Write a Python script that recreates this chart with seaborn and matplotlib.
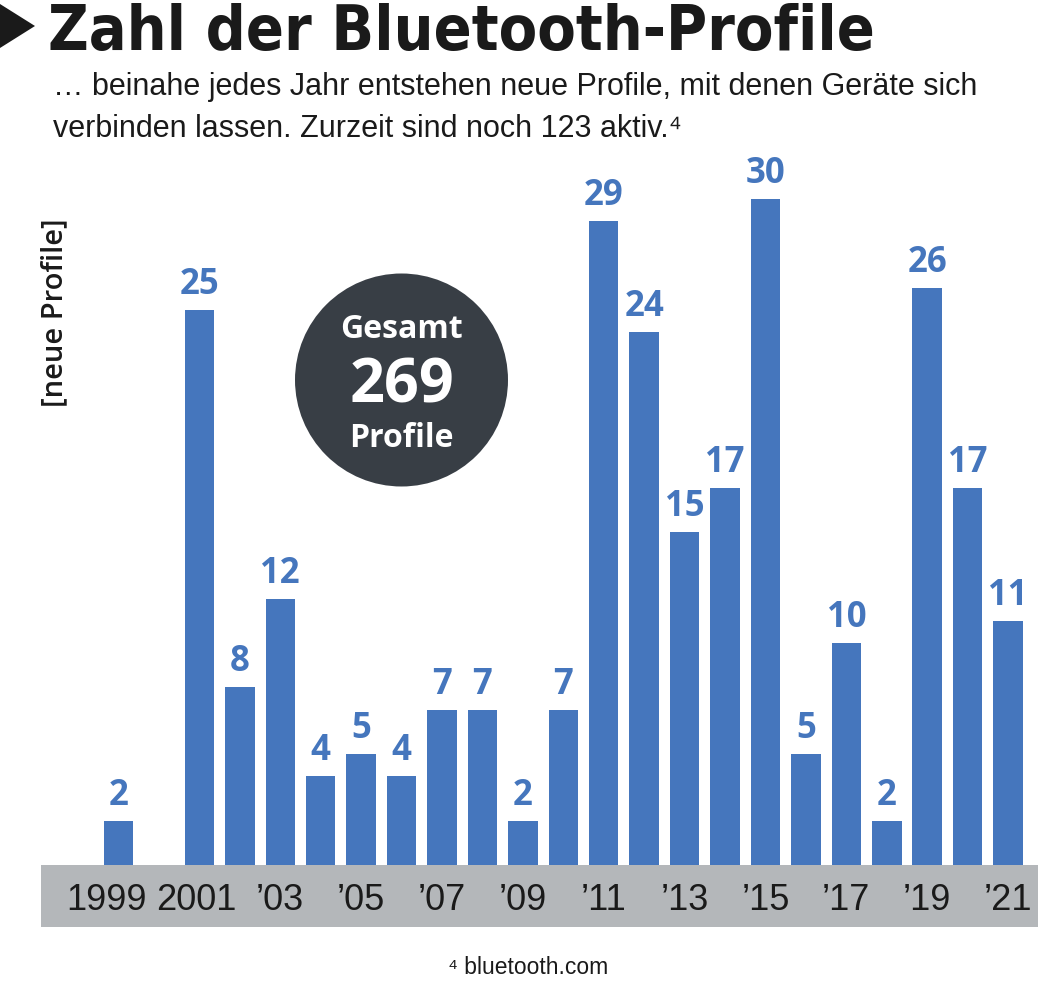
import matplotlib
matplotlib.use("Agg")
import matplotlib.pyplot as plt
import matplotlib.transforms as mtransforms
from matplotlib.patches import Ellipse, Polygon
import pandas as pd
import seaborn as sns

# data
years = list(range(1999, 2022))
new_profiles = [2, 0, 25, 8, 12, 4, 5, 4, 7, 7, 2, 7, 29, 24, 15, 17, 30, 5, 10, 2, 26, 17, 11]
tick_years = [1999, 2001, 2003, 2005, 2007, 2009, 2011, 2013, 2015, 2017, 2019, 2021]
tick_labels = ["1999", "2001", "’03", "’05", "’07", "’09", "’11", "’13", "’15", "’17", "’19", "’21"]

title = "Zahl der Bluetooth-Profile"
subtitle_lines = [
    "… beinahe jedes Jahr entstehen neue Profile, mit denen Geräte sich",
    "verbinden lassen. Zurzeit sind noch 123 aktiv.⁴",
]
ylabel = "[neue Profile]"
badge_lines = ["Gesamt", str(sum(new_profiles)), "Profile"]
source = "⁴ bluetooth.com"

BLUE = "#4576bd"
GRAY = "#b4b7ba"
DARK = "#383e45"
INK = "#1a1a1a"
BOLD_FONT = ["Open Sans", "DejaVu Sans"]

W, H = 1057, 996
PX_PER_UNIT = 22.2   # pixels per profile on the value axis

sns.set_theme(style="white")
plt.rcParams["font.family"] = ["Liberation Sans", "DejaVu Sans"]

fig = plt.figure(figsize=(W / 100, H / 100), dpi=100)
ax = fig.add_axes([41.3 / W, 1 - 927 / H, (1038 - 41.3) / W, (927 - 160) / H])

df = pd.DataFrame({"year": years, "profiles": new_profiles})
sns.barplot(data=df, x="year", y="profiles", order=years, color=BLUE,
            saturation=1, width=0.73, linewidth=0, ax=ax)

ax.set_xlim(-1.91, 22.74)
ax.set_ylim(-62 / PX_PER_UNIT, (865 - 160) / PX_PER_UNIT)
ax.axhspan(-62 / PX_PER_UNIT, 0, color=GRAY, lw=0, zorder=0)

ax.bar_label(ax.containers[0], labels=[str(v) if v else "" for v in new_profiles],
             padding=5, color=BLUE, fontsize=25, fontweight="bold", family=BOLD_FONT)

# year labels inside the grey band
label_shift = {"1999": -12, "2001": -3}
for yr, lab in zip(tick_years, tick_labels):
    tr = mtransforms.offset_copy(ax.transData, fig=fig, x=label_shift.get(lab, 0), y=0, units="dots")
    ax.text(years.index(yr), -45 / PX_PER_UNIT, lab, transform=tr, ha="center", va="baseline",
            fontsize=26, color=INK)

ax.set(xlabel="", ylabel="", xticks=[], yticks=[])
sns.despine(ax=ax, left=True, bottom=True)

# header
fig.add_artist(Polygon([(0, 1 - 4 / H), (35 / W, 1 - 26 / H), (0, 1 - 48 / H)],
                       closed=True, transform=fig.transFigure, color=INK, lw=0))
fig.text(48 / W, 1 - 50 / H, title, ha="left", va="baseline", fontsize=45,
         fontweight="bold", family="DejaVu Sans", fontstretch="condensed", color=INK)
for i, line in enumerate(subtitle_lines):
    fig.text(53 / W, 1 - (95 + 42 * i) / H, line, ha="left", va="baseline", fontsize=22, color=INK)

fig.text(55 / W, 1 - 313 / H, ylabel, rotation=90, ha="center", va="center",
         fontsize=21, fontweight="semibold", family=BOLD_FONT, color=INK)

# total badge
fig.add_artist(Ellipse((401.5 / W, 1 - 380 / H), 213 / W, 213 / H,
                       transform=fig.transFigure, color=DARK, lw=0))
for txt, base, size in zip(badge_lines, [338, 402, 447], [23, 44, 23]):
    fig.text(401.5 / W, 1 - base / H, txt, ha="center", va="baseline", fontsize=size,
             fontweight="bold", family=BOLD_FONT, color="white")

fig.text(528 / W, 1 - 974 / H, source, ha="center", va="baseline", fontsize=16.5, color=INK)

fig.savefig("out.png", dpi=100)
